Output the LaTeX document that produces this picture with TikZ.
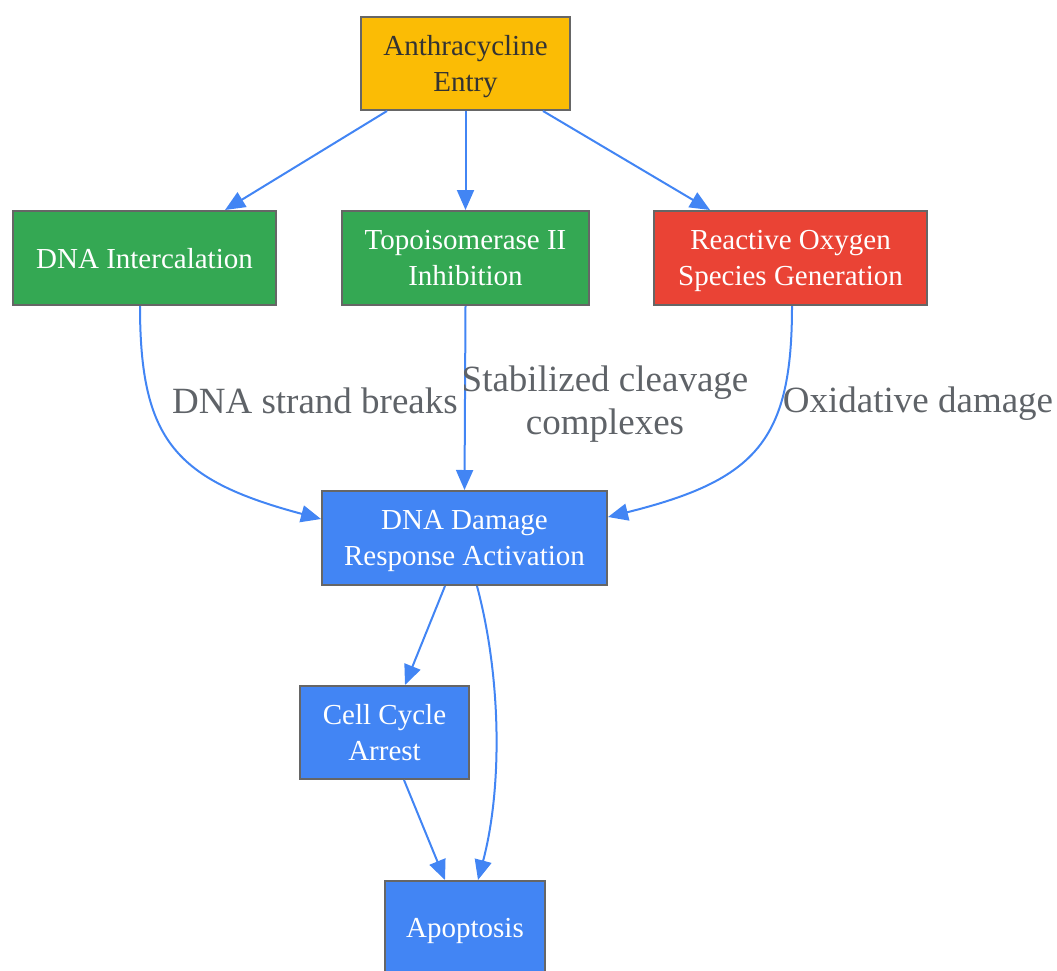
\documentclass[tikz,border=0pt]{standalone}
\usepackage{fontspec}
\setmainfont{Liberation Serif}
\usetikzlibrary{arrows.meta,calc}
\definecolor{bordergray}{HTML}{666666}
\definecolor{edgeblue}{HTML}{4285F4}
\definecolor{labelgray}{HTML}{5F6368}
\definecolor{cyellow}{HTML}{FBBC05}
\definecolor{cgreen}{HTML}{34A853}
\definecolor{cred}{HTML}{EA4335}
\definecolor{cblue}{HTML}{4285F4}
\definecolor{darktext}{HTML}{333333}
\newcommand\nodefont{\fontsize{29}{36}\selectfont}
\newcommand\lblfont{\fontsize{37}{43}\selectfont}
\tikzset{
  box/.style={draw=bordergray, line width=2pt, inner sep=0pt, align=center, font=\nodefont, text=white,
    text depth=-2pt},
  conn/.style={draw=edgeblue, line width=2pt, -{Triangle[length=20pt,width=17pt]}},
  elabel/.style={text=labelgray, font=\lblfont, align=center, inner sep=0pt}
}
\begin{document}
\begin{tikzpicture}[x=1pt,y=-1pt]
\useasboundingbox (0,0) rectangle (1057,970);
\node[box, fill=cyellow, text=darktext, minimum width=209pt, minimum height=93pt] (entry) at (465.5,63.5) {Anthracycline\\Entry};
\node[box, fill=cgreen, minimum width=263pt, minimum height=94pt] (dnaint) at (144.5,258) {DNA Intercalation};
\node[box, fill=cgreen, minimum width=247pt, minimum height=94pt, text depth=-6pt] (topo) at (465.5,258) {Topoisomerase II\\Inhibition};
\node[box, fill=cred, minimum width=273pt, minimum height=94pt] (ros) at (790.5,258) {Reactive Oxygen\\Species Generation};
\node[box, fill=cblue, minimum width=285pt, minimum height=94pt] (ddr) at (464.5,538) {DNA Damage\\Response Activation};
\node[box, fill=cblue, minimum width=169pt, minimum height=93pt, text depth=-6pt] (cca) at (384.5,732.5) {Cell Cycle\\Arrest};
\node[box, fill=cblue, minimum width=160pt, minimum height=94pt] (apop) at (465,928) {Apoptosis};

\draw[conn] ($(entry.south)+(-78.5,0)$) -- ($(dnaint.north)+(80.5,0)$);
\draw[conn] (entry.south) -- (topo.north);
\draw[conn] ($(entry.south)+(77.5,0)$) -- ($(ros.north)+(-80.5,0)$);

\draw[conn] ($(dnaint.south)+(-4.5,0)$) .. controls (140,440) and (175,480) .. ($(ddr.west)+(0,-19)$);
\draw[conn] (topo.south) -- (ddr.north);
\draw[conn] ($(ros.south)+(1.5,0)$) .. controls (792,440) and (757,480) .. ($(ddr.east)+(0,-21)$);

\draw[conn] ($(ddr.south)+(-19.5,0)$) -- ($(cca.north)+(20.5,0)$);
\draw[conn] ($(ddr.south)+(12.5,0)$) .. controls (502,680) and (502,790) .. ($(apop.north)+(13,0)$);
\draw[conn] ($(cca.south)+(19.5,0)$) -- ($(apop.north)+(-20,0)$);

\node[elabel] (l1) at (315,401) {DNA strand breaks};
\node[elabel] (l2) at (605,404) {Stabilized cleavage\\complexes};
\node[elabel] (l3) at (918,404) {Oxidative damage};
\end{tikzpicture}
\end{document}
